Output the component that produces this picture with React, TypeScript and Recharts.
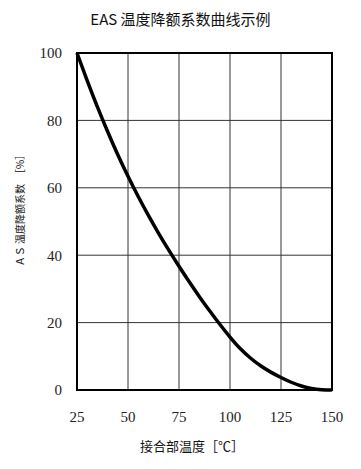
import { CartesianGrid, Line, LineChart, ReferenceArea, XAxis, YAxis } from 'recharts';

const TITLE = 'EAS 温度降额系数曲线示例';
const X_LABEL = '接合部温度［℃］';
const Y_LABEL = 'ＡＳ 温度降额系数　［%］';

const X_TICKS = [25, 50, 75, 100, 125, 150];
const Y_TICKS = [0, 20, 40, 60, 80, 100];

// junction temperature [°C]
const temps = [25, 30, 35, 40, 45, 50, 55, 60, 65, 70, 75, 80, 85, 90, 95, 100, 105, 110, 115, 120, 125, 130, 135, 140, 145, 150];
// derating factor [%]
const factors = [100, 91.8, 84, 76.7, 69.8, 63.4, 57.4, 51.8, 46.5, 41.5, 36.7, 32.1, 27.7, 23.5, 19.5, 15.7, 12.3, 9.5, 7.2, 5.3, 3.7, 2.3, 1.2, 0.45, 0.1, 0];

const data = temps.map((t, i) => ({ t, v: factors[i] }));

const tickStyle = { fill: '#222', fontSize: 15, fontFamily: '"Liberation Serif", serif' };
const cjk = '"Noto Sans CJK SC", sans-serif';

export default function App() {
  return (
    <div style={{ position: 'absolute', left: 0, top: 0, width: 361, height: 469, background: '#fff' }}>
      <div
        style={{
          position: 'absolute',
          top: 8,
          left: 0,
          width: 361,
          textAlign: 'center',
          fontFamily: cjk,
          fontSize: 15,
          lineHeight: '22px',
          color: '#111',
        }}
      >
        {TITLE}
      </div>
      <LineChart width={361} height={469} data={data} margin={{ top: 53, right: 29, bottom: 39, left: 37 }}>
        <CartesianGrid stroke='#333' strokeWidth={1} horizontalValues={Y_TICKS} verticalValues={X_TICKS} />
        <XAxis
          dataKey='t'
          type='number'
          domain={[25, 150]}
          ticks={X_TICKS}
          height={40}
          tickLine={false}
          tickSize={0}
          tickMargin={21}
          axisLine={{ stroke: '#000', strokeWidth: 2 }}
          tick={tickStyle}
        />
        <YAxis
          type='number'
          domain={[0, 100]}
          ticks={Y_TICKS}
          width={40}
          tickLine={false}
          tickSize={0}
          tickMargin={15}
          axisLine={{ stroke: '#000', strokeWidth: 2 }}
          tick={tickStyle}
        />
        <ReferenceArea x1={25} x2={150} y1={0} y2={100} fill='none' stroke='#000' strokeWidth={2} ifOverflow='visible' />
        <Line
          dataKey='v'
          type='monotone'
          stroke='#000'
          strokeWidth={3.5}
          dot={false}
          isAnimationActive={false}
        />
      </LineChart>
      <div
        style={{
          position: 'absolute',
          top: 436,
          left: 92,
          width: 200,
          textAlign: 'center',
          fontFamily: cjk,
          fontSize: 13,
          lineHeight: '20px',
          color: '#111',
        }}
      >
        {X_LABEL}
      </div>
      <div
        style={{
          position: 'absolute',
          left: 20,
          top: 208,
          transform: 'translate(-50%, -50%) rotate(-90deg)',
          whiteSpace: 'nowrap',
          fontFamily: cjk,
          fontSize: 10,
          lineHeight: '14px',
          color: '#111',
        }}
      >
        {Y_LABEL}
      </div>
    </div>
  );
}
